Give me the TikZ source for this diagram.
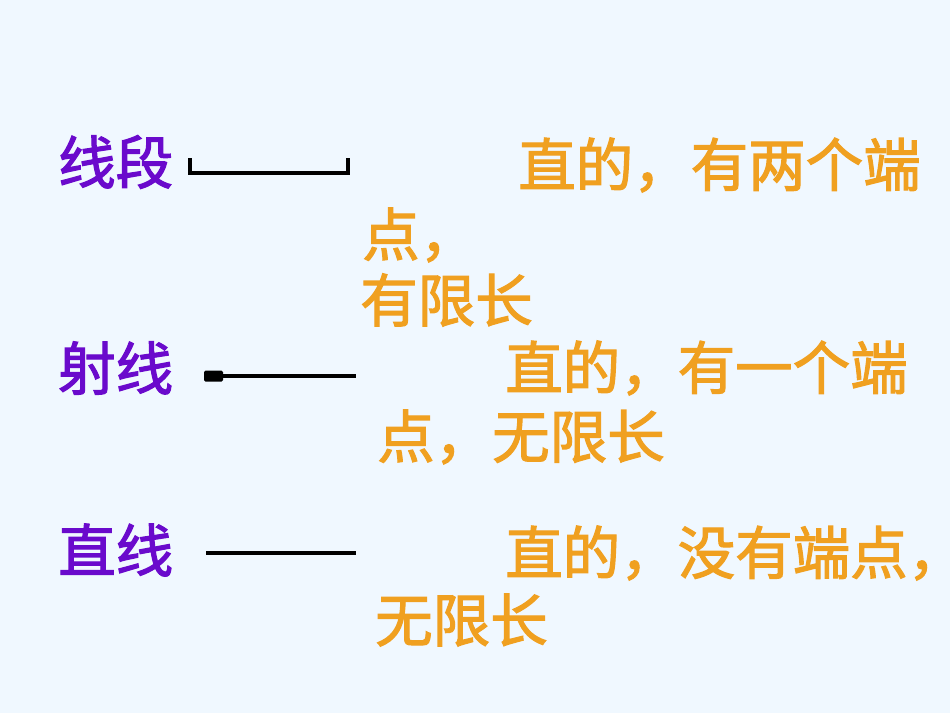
\documentclass[tikz,border=0pt]{standalone}
\usepackage{fontspec}
\newfontfamily\cjk[FakeBold=2]{Noto Sans CJK SC}
\definecolor{bg}{HTML}{F0F8FF}
\definecolor{pur}{HTML}{6A0ACC}
\definecolor{org}{HTML}{F0A020}
\begin{document}
\begin{tikzpicture}[x=1pt,y=-1pt,
  term/.style={anchor=west,inner sep=0pt,text=pur,font=\cjk\fontsize{57.5}{57.5}\selectfont},
  desc/.style={anchor=west,inner sep=0pt,text=org,font=\cjk\fontsize{57.5}{57.5}\selectfont},
  ln/.style={line width=4pt}]
\fill[bg] (0,0) rectangle (950,713);
\useasboundingbox (0,0) rectangle (950,713);
\node[term] (t1) at (58,162) {线段};
\node[term] (t2) at (58,368) {射线};
\node[term] (t3) at (58,550) {直线};
\node[desc] (d1) at (518,165) {直的，有两个端};
\node[desc] (d1b) at (362,235) {点，};
\node[desc] (d1c) at (360,300) {有限长};
\node[desc] (d2) at (505,368) {直的，有一个端};
\node[desc] (d2b) at (377,437) {点，无限长};
\node[desc] (d3) at (505,553) {直的，没有端点，};
\node[desc] (d3b) at (375,620) {无限长};
\coordinate (s1) at (190,158); \coordinate (s2) at (348,158);
\draw[ln,line width=3.5pt] (s1) -- (190,173) -- (348,173) -- (s2);
\coordinate (r1) at (222,376); \coordinate (r2) at (356,376);
\fill[rounded corners=1.5pt] (204,370.5) rectangle (223,381.5);
\draw[line width=3.5pt] (r1) -- (r2);
\coordinate (l1) at (206,553); \coordinate (l2) at (356,553);
\draw[ln] (l1) -- (l2);
\end{tikzpicture}
\end{document}
